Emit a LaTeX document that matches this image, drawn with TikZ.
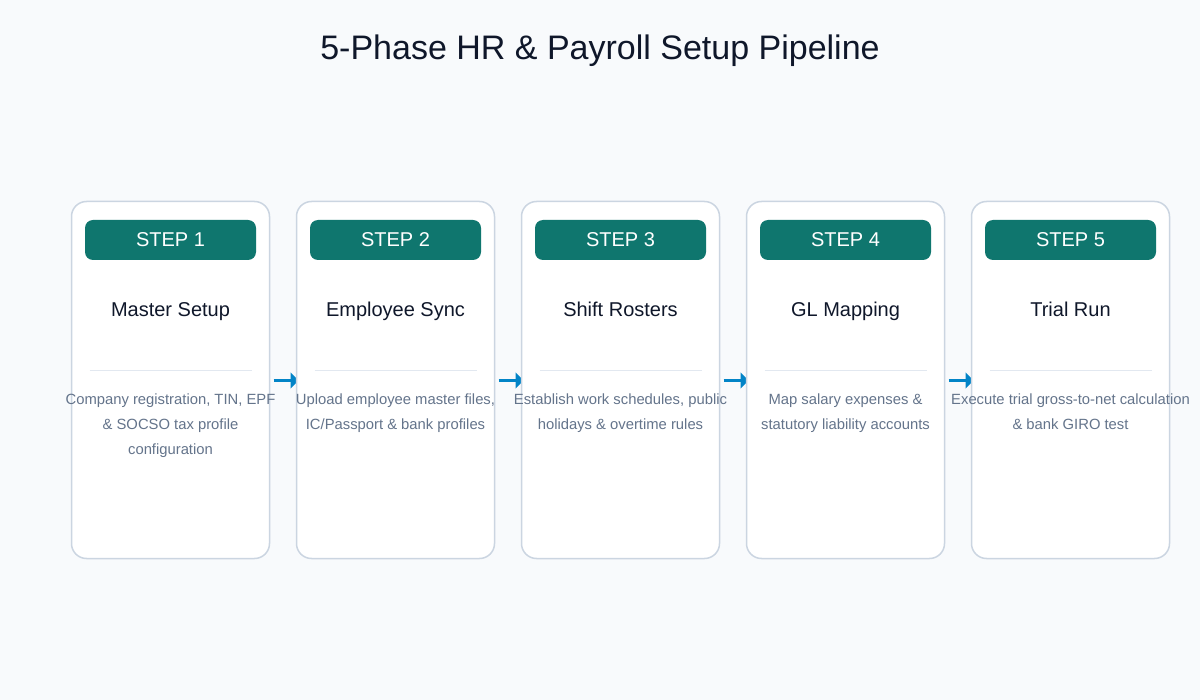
\documentclass[tikz,border=0pt]{standalone}
\usepackage{fontspec}
\setmainfont{Liberation Sans}
\usepackage{tikz}
\usetikzlibrary{positioning, arrows.meta, backgrounds}
\definecolor{pagebg}{HTML}{F8FAFC}
\definecolor{cardline}{HTML}{CBD5E1}
\definecolor{sepline}{HTML}{E2E8F0}
\definecolor{stepteal}{HTML}{0F766E}
\definecolor{headtext}{HTML}{0F172A}
\definecolor{desctext}{HTML}{64748B}
\definecolor{flowblue}{HTML}{0284C7}
\tikzset{
    card/.style={
        draw = cardline, fill = white, line width = 1.5pt,
        rounded corners = 15pt, outer sep = 0pt,
        minimum width = 198pt,
        minimum height = 357pt
    },
    badge/.style={
        fill = stepteal, rounded corners = 8pt, outer sep = 0pt,
        minimum width = 171pt, minimum height = 40pt,
        text = white, font = \fontsize{20}{24}\selectfont
    },
    phase/.style = {text = headtext, inner sep = 0pt, anchor = base, font = \fontsize{20}{24}\selectfont},
    desc/.style = {text = desctext, inner sep = 0pt, align = center, anchor = north,
        font = \fontsize{14.8}{25}\selectfont},
    flow/.style = {draw = flowblue, line width = 3.5pt, -{Triangle[length=8pt, width=16pt]}}
}

\begin{document}
\begin{tikzpicture}[x=1pt, y=-1pt]

    \begin{scope}[on background layer]
        \fill[pagebg] (0,0) rectangle (1200,700);
    \end{scope}
    \useasboundingbox (0,0) rectangle (1200,700);

    \node[text = headtext, anchor = base, inner sep = 0pt, font = \fontsize{34}{40}\selectfont] (title) at (600,60) {5-Phase HR \& Payroll Setup Pipeline};

    % Cards
    \node[card, anchor = north west] (card1) at (71.5,201.5) {};
    \foreach \i/\j in {1/2, 2/3, 3/4, 4/5}{
        \node[card, right = 27pt of card\i] (card\j) {};
    }

    % Badges, phase names and separators
    \foreach \i/\name in {1/Master Setup, 2/Employee Sync, 3/Shift Rosters, 4/GL Mapping, 5/Trial Run}{
        \node[badge, below = 18.5pt of card\i.north] (badge\i) {STEP \i};
        \path (card\i.north) ++(0,115) node[phase] (phase\i) {\name};
        \draw[sepline, line width = 1pt] (card\i.north) ++(-81,169) coordinate (sepl\i) -- ++(162,0) coordinate (sepr\i);
    }

    % Descriptions
    \path (card1.north) ++(0,192) node[desc] (desc1) {Company registration, TIN, EPF\\\& SOCSO tax profile\\configuration};
    \path (card2.north) ++(0,192) node[desc] (desc2) {Upload employee master files,\\IC/Passport \& bank profiles};
    \path (card3.north) ++(0,192) node[desc] (desc3) {Establish work schedules, public\\holidays \& overtime rules};
    \path (card4.north) ++(0,192) node[desc] (desc4) {Map salary expenses \&\\statutory liability accounts};
    \path (card5.north) ++(0,192) node[desc] (desc5) {Execute trial gross-to-net calculation\\\& bank GIRO test};

    % Arrows (behind the cards)
    \begin{scope}[on background layer]
        \foreach \i/\j in {1/2, 2/3, 3/4, 4/5}{
            \draw[flow] ([xshift=4pt, yshift=-0.5pt]card\i.east) -- ([xshift=2pt, yshift=-0.5pt]card\j.west);
        }
    \end{scope}

\end{tikzpicture}
\end{document}
